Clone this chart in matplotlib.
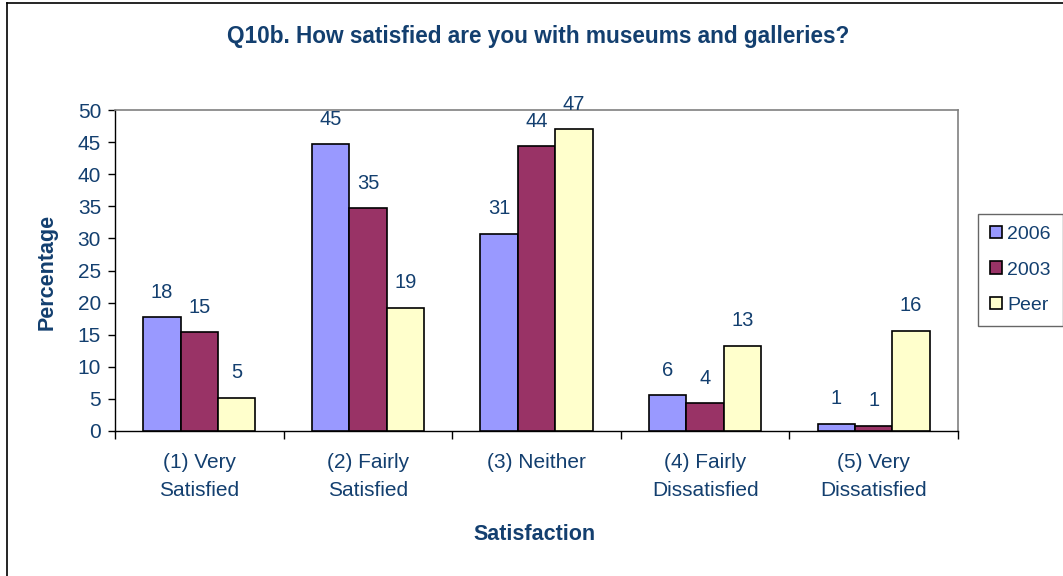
import matplotlib
matplotlib.use("Agg")
import matplotlib.pyplot as plt
import numpy as np
from matplotlib.lines import Line2D

categories = ["(1) Very\nSatisfied", "(2) Fairly\nSatisfied", "(3) Neither",
              "(4) Fairly\nDissatisfied", "(5) Very\nDissatisfied"]
series_names = ["2006", "2003", "Peer"]
values_2006 = [17.7, 44.7, 30.7, 5.6, 1.1]
values_2003 = [15.4, 34.7, 44.4, 4.3, 0.8]
values_peer = [5.2, 19.2, 47.0, 13.3, 15.6]
yticks = [0, 5, 10, 15, 20, 25, 30, 35, 40, 45, 50]

colors = ["#9999FF", "#993366", "#FFFFCC"]
navy = "#133F6F"
plt.rcParams['font.family'] = ['Liberation Sans', 'DejaVu Sans']

W, H = 1063, 576
fig = plt.figure(figsize=(W/100, H/100), dpi=100)
ax = fig.add_axes([115/W, 1-431/H, (958-115)/W, (431-110)/H])

x = np.arange(len(categories))
bw = 0.222
all_vals = [values_2006, values_2003, values_peer]
for i, (vals, name, c) in enumerate(zip(all_vals, series_names, colors)):
    pos = x + (i-1)*bw
    bars = ax.bar(pos, vals, bw, color=c, edgecolor='black', linewidth=1.2, label=name, zorder=3)
    for b, v in zip(bars, vals):
        ax.annotate(f"{v:.0f}", (b.get_x()+b.get_width()/2, v), xytext=(0, 14),
                    textcoords='offset points', ha='center', va='baseline',
                    fontsize=14.5, color=navy, annotation_clip=False)

ax.set_xlim(-0.5, len(categories)-0.5)
ax.set_ylim(0, 50)
ax.set_yticks(yticks)
ax.tick_params(axis='y', direction='out', length=5, width=1, colors='black',
               labelcolor=navy, labelsize=15, pad=5)
ax.set_xticks(x)
ax.set_xticklabels(categories, linespacing=1.6)
ax.tick_params(axis='x', which='major', length=0, labelcolor=navy, labelsize=15, pad=16)
ax.set_xticks(np.arange(-0.5, len(categories), 1), minor=True)
ax.tick_params(axis='x', which='minor', direction='out', length=6, width=1, colors='black')

for s in ['top', 'right']:
    ax.spines[s].set_color('#808080')
    ax.spines[s].set_linewidth(1.2)
for s in ['left', 'bottom']:
    ax.spines[s].set_color('black')
    ax.spines[s].set_linewidth(1.0)

fig.text(538/W, 1-37/H, "Q10b. How satisfied are you with museums and galleries?",
         ha='center', va='center', fontsize=16.3, fontweight='bold', color=navy)
fig.text(535/W, 1-535/H, "Satisfaction", ha='center', va='center',
         fontsize=15.5, fontweight='bold', color=navy)
fig.text(47/W, 1-272/H, "Percentage", ha='center', va='center', rotation=90,
         fontsize=15.5, fontweight='bold', color=navy)

leg = fig.legend(loc='center', bbox_to_anchor=(979/W, 1-327/H, (1062-979)/W, (327-213)/H),
                 fontsize=14, frameon=True, fancybox=False, edgecolor='#404040',
                 handlelength=0.6, handleheight=0.6, handletextpad=0.3,
                 labelspacing=0.95, borderpad=0.6, borderaxespad=0)
leg.get_frame().set_linewidth(1.0)
for t in leg.get_texts():
    t.set_color(navy)

fig.add_artist(Line2D([7/W, 7/W], [0, 1-3/H], transform=fig.transFigure, color='black', lw=1.2))
fig.add_artist(Line2D([7/W, 1], [1-3/H, 1-3/H], transform=fig.transFigure, color='black', lw=1.2))

fig.savefig("out.png", dpi=100)
